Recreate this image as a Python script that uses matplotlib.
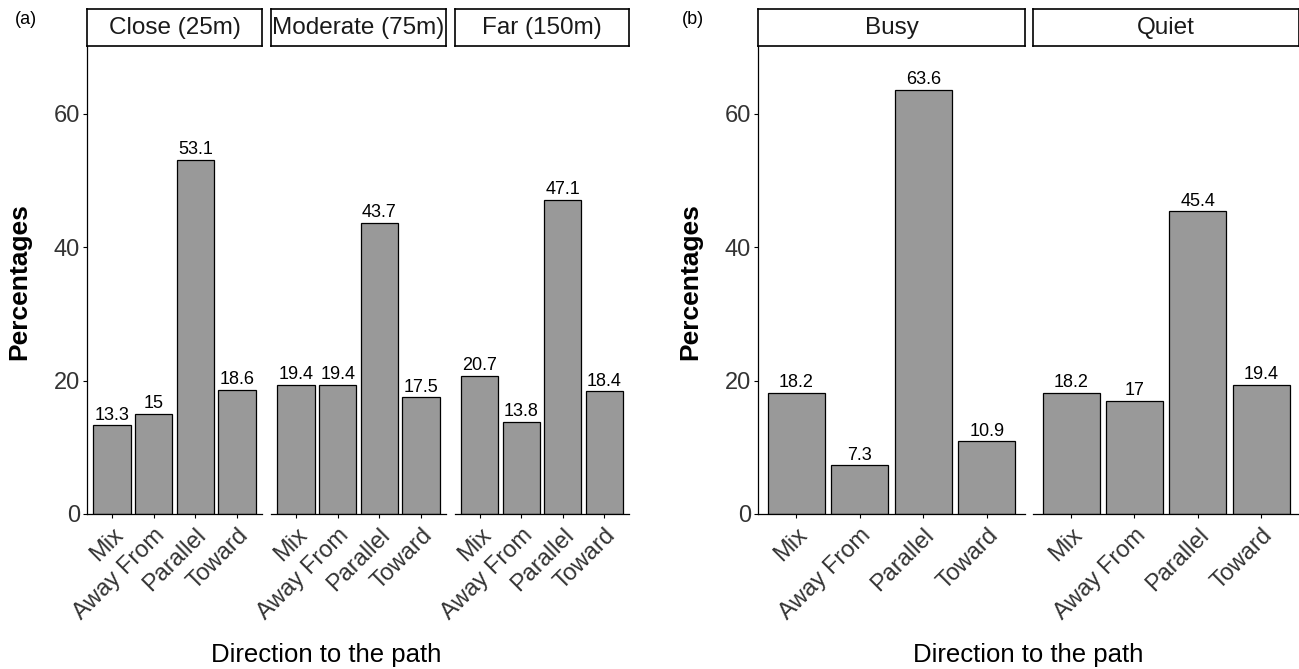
import matplotlib
matplotlib.use('Agg')
import matplotlib.pyplot as plt

plt.rcParams['font.family'] = ['Liberation Sans', 'DejaVu Sans']

W, H = 1299, 669

categories = ['Mix', 'Away From', 'Parallel', 'Toward']
distance_facets = ['Close (25m)', 'Moderate (75m)', 'Far (150m)']
close_vals = [13.3, 15, 53.1, 18.6]
moderate_vals = [19.4, 19.4, 43.7, 17.5]
far_vals = [20.7, 13.8, 47.1, 18.4]
traffic_facets = ['Busy', 'Quiet']
busy_vals = [18.2, 7.3, 63.6, 10.9]
quiet_vals = [18.2, 17, 45.4, 19.4]
y_ticks = [0, 20, 40, 60]

fig = plt.figure(figsize=(W / 100, H / 100), dpi=100)

AX_TOP, AX_H = 46, 468
STRIP_TOP, STRIP_H = 9, 37
TXT = '#333333'


def px_axes(x0, top, w, h):
    return fig.add_axes([x0 / W, 1 - (top + h) / H, w / W, h / H])


def draw_facet(x0, w, title, vals, show_y):
    ax = px_axes(x0, AX_TOP, w, AX_H)
    xs = list(range(len(categories)))
    ax.bar(xs, vals, width=0.9, color='#999999', edgecolor='black', linewidth=0.9)
    for xi, v in zip(xs, vals):
        ax.annotate(f'{v:g}', (xi, v), xytext=(0, 1.2), textcoords='offset points',
                    ha='center', va='bottom', fontsize=13, color='black')
    ax.set_xlim(-0.6, len(categories) - 0.4)
    ax.set_ylim(0, 70.2)
    for s in ['top', 'right']:
        ax.spines[s].set_visible(False)
    ax.spines['bottom'].set_linewidth(0.9)
    ax.spines['left'].set_linewidth(0.9)
    ax.set_xticks(xs)
    ax.set_xticklabels(categories, rotation=45, ha='right', va='top',
                       rotation_mode='anchor', fontsize=17, color=TXT)
    ax.tick_params(axis='x', length=3.2, width=0.8, pad=4)
    if show_y:
        ax.set_yticks(y_ticks)
        ax.set_yticklabels([str(t) for t in y_ticks], fontsize=17, color=TXT)
        ax.tick_params(axis='y', length=3.2, width=0.8, pad=2)
    else:
        ax.spines['left'].set_visible(False)
        ax.set_yticks([])
    strip = px_axes(x0, STRIP_TOP, w, STRIP_H)
    strip.set_xticks([])
    strip.set_yticks([])
    for s in strip.spines.values():
        s.set_linewidth(1.2)
    strip.text(0.5, 0.48, title, ha='center', va='center', fontsize=17.5,
               color='#1a1a1a', transform=strip.transAxes)
    return ax


# Panel (a)
a_x = [87, 271, 455]
a_w = [175, 175, 174]
facet_vals_a = [close_vals, moderate_vals, far_vals]
for i, (title, vals) in enumerate(zip(distance_facets, facet_vals_a)):
    draw_facet(a_x[i], a_w[i], title, vals, i == 0)

# Panel (b)
b_x = [758, 1033]
b_w = [267, 266]
facet_vals_b = [busy_vals, quiet_vals]
for i, (title, vals) in enumerate(zip(traffic_facets, facet_vals_b)):
    draw_facet(b_x[i], b_w[i], title, vals, i == 0)

# Titles
fig.text(326 / W, 1 - 655 / H, 'Direction to the path', ha='center', va='center',
         fontsize=18.5, color='black')
fig.text(1028 / W, 1 - 655 / H, 'Direction to the path', ha='center', va='center',
         fontsize=18.5, color='black')
fig.text(19 / W, 1 - 282 / H, 'Percentages', ha='center', va='center', rotation=90,
         fontsize=19, fontweight='bold', color='black')
fig.text(690 / W, 1 - 282 / H, 'Percentages', ha='center', va='center', rotation=90,
         fontsize=19, fontweight='bold', color='black')
fig.text(26 / W, 1 - 20 / H, '(a)', ha='center', va='center', fontsize=13, color='black')
fig.text(693 / W, 1 - 20 / H, '(b)', ha='center', va='center', fontsize=13, color='black')

fig.savefig('out.png', dpi=100)
